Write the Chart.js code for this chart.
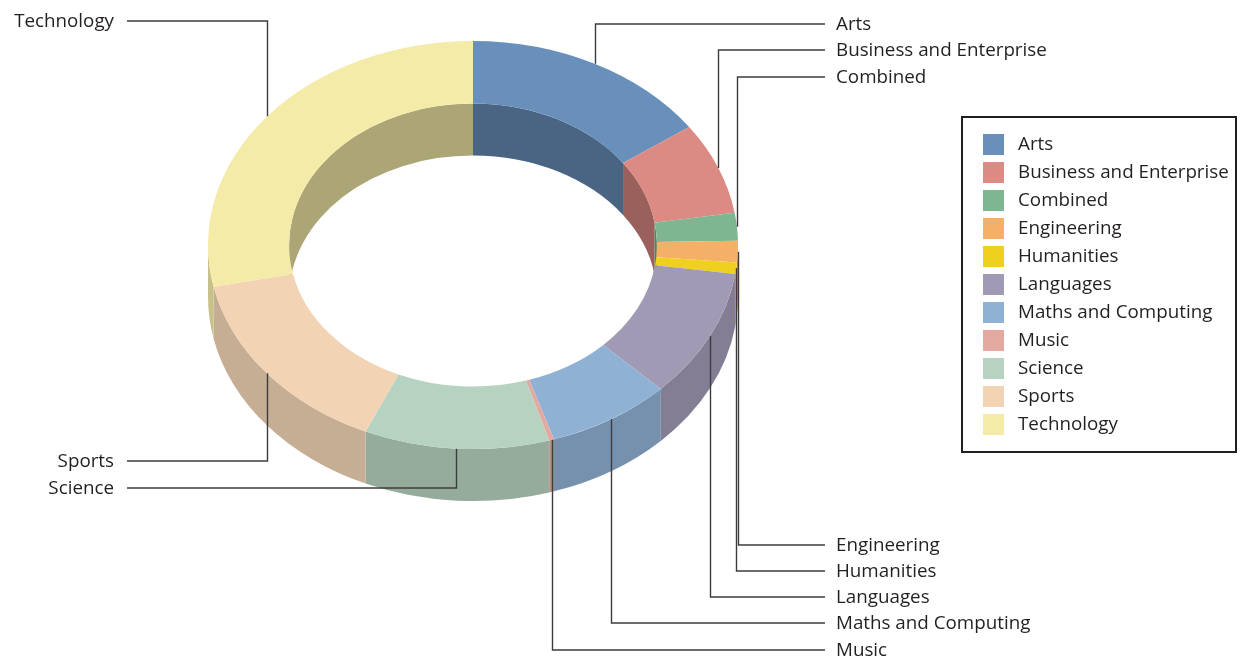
<!DOCTYPE html>
<html>
<head>
<meta charset="utf-8">
<title>Subject areas</title>
<script src="https://cdn.jsdelivr.net/npm/chart.js@4/dist/chart.umd.min.js"></script>
<style>
  html, body { margin: 0; padding: 0; background: #ffffff; }
  #wrap { position: relative; width: 1241px; height: 660px; }
</style>
</head>
<body>
<div id="wrap"><canvas id="chart"></canvas></div>
<script>
// Subject areas and their share of the total (%)
const categories = [
  'Arts', 'Business and Enterprise', 'Combined', 'Engineering', 'Humanities',
  'Languages', 'Maths and Computing', 'Music', 'Science', 'Sports', 'Technology'
];
const shares = [15.2, 7.3, 2.2, 1.7, 0.9, 10.2, 7.6, 0.3, 11.3, 15.1, 28.3];

// Slice colours (top face); walls are darker shades of these
const sliceColors = [
  '#6890bb', '#dc8a84', '#7db690', '#f5b068', '#f0d01e',
  '#a09ab4', '#8fb1d4', '#e3a8a0', '#b6d2c0', '#f2d4b5', '#f5eba8'
];

// Callout placement: which side the label sits on and its row height
const calloutSide = ['right', 'right', 'right', 'right', 'right', 'right', 'right', 'right', 'left', 'left', 'left'];
const calloutRowY = [24, 50, 77, 545, 571, 597, 623, 650, 488, 461, 21];

// Tilted ring: centre, horizontal radius, vertical squash and wall height
const RING = { cx: 473, cy: 245, rx: 265, tilt: 0.77, depth: 52 };
const TEXT_FONT = '18.8px "Open Sans", "Noto Sans", sans-serif';
const TEXT_COLOR = '#231f20';
const LEGEND_BOX = { x: 962, y: 117, w: 274, h: 335 };

function shade(hex, f) {
  const n = parseInt(hex.slice(1), 16);
  const r = Math.round(((n >> 16) & 255) * f);
  const g = Math.round(((n >> 8) & 255) * f);
  const b = Math.round((n & 255) * f);
  return `rgb(${r},${g},${b})`;
}

function ringGeometry(chart) {
  const arcs = chart.getDatasetMeta(0).data;
  const first = arcs[0];
  return { arcs, s: RING.rx / first.outerRadius, k: RING.tilt, ox: first.x, oy: first.y };
}

function project(g, angle, radius) {
  return [
    RING.cx + g.s * radius * Math.cos(angle),
    RING.cy + g.s * g.k * radius * Math.sin(angle)
  ];
}

// One extruded wall band along an ellipse between parametric angles u..v
function wall(ctx, g, radius, u, v, color) {
  const rx = g.s * radius;
  const ry = rx * g.k;
  ctx.beginPath();
  ctx.ellipse(RING.cx, RING.cy, rx, ry, 0, u, v, false);
  ctx.ellipse(RING.cx, RING.cy + RING.depth, rx, ry, 0, v, u, true);
  ctx.closePath();
  ctx.fillStyle = color;
  ctx.fill();
}

const ring3d = {
  id: 'ring3d',
  beforeDatasetsDraw(chart) {
    const ctx = chart.ctx;
    const g = ringGeometry(chart);
    const pieces = [];
    g.arcs.forEach((arc, i) => {
      const u0 = arc.startAngle, v0 = arc.endAngle;
      const cuts = [u0];
      for (let m = Math.ceil(u0 / Math.PI) * Math.PI; m < v0; m += Math.PI) {
        if (m > u0) cuts.push(m);
      }
      cuts.push(v0);
      for (let j = 0; j < cuts.length - 1; j++) {
        const u = cuts[j], v = cuts[j + 1];
        pieces.push({ i, u, v, front: Math.sin((u + v) / 2) > 0,
                      inner: arc.innerRadius, outer: arc.outerRadius });
      }
    });
    ctx.save();
    // far side of the hole: inner walls
    pieces.filter(p => !p.front).forEach(p =>
      wall(ctx, g, p.inner, p.u, p.v, shade(sliceColors[p.i], 0.70)));
    // near side: outer walls
    pieces.filter(p => p.front).forEach(p =>
      wall(ctx, g, p.outer, p.u, p.v, shade(sliceColors[p.i], 0.82)));
    ctx.restore();
    // tilt the top face of the doughnut
    ctx.save();
    ctx.translate(RING.cx, RING.cy);
    ctx.scale(g.s, g.s * g.k);
    ctx.translate(-g.ox, -g.oy);
  },
  afterDatasetsDraw(chart) {
    chart.ctx.restore();
  },
  afterDraw(chart) {
    const ctx = chart.ctx;
    const g = ringGeometry(chart);
    ctx.save();
    // callouts
    ctx.strokeStyle = '#3c3c3c';
    ctx.lineWidth = 1.4;
    ctx.font = TEXT_FONT;
    ctx.fillStyle = TEXT_COLOR;
    ctx.textBaseline = 'middle';
    g.arcs.forEach((arc, i) => {
      const mid = (arc.startAngle + arc.endAngle) / 2;
      const [px, py] = project(g, mid, arc.outerRadius);
      const y = calloutRowY[i];
      const right = calloutSide[i] === 'right';
      const x0 = Math.round(px) + 0.5;
      ctx.beginPath();
      ctx.moveTo(x0, py);
      ctx.lineTo(x0, y);
      ctx.lineTo(right ? 825 : 127, y);
      ctx.stroke();
      ctx.textAlign = right ? 'left' : 'right';
      ctx.fillText(categories[i], right ? 836 : 114, y + 0.5);
    });
    // legend
    ctx.lineWidth = 2;
    ctx.strokeStyle = TEXT_COLOR;
    ctx.strokeRect(LEGEND_BOX.x, LEGEND_BOX.y, LEGEND_BOX.w, LEGEND_BOX.h);
    ctx.textAlign = 'left';
    categories.forEach((name, i) => {
      const top = LEGEND_BOX.y + 17 + i * 28;
      ctx.fillStyle = sliceColors[i];
      ctx.fillRect(LEGEND_BOX.x + 21, top, 21, 21);
      ctx.fillStyle = TEXT_COLOR;
      ctx.fillText(name, LEGEND_BOX.x + 56, top + 11);
    });
    ctx.restore();
  }
};

new Chart(document.getElementById('chart'), {
  type: 'doughnut',
  data: {
    labels: categories,
    datasets: [{
      data: shares,
      backgroundColor: sliceColors,
      borderWidth: 0,
      clip: false
    }]
  },
  options: {
    responsive: true,
    maintainAspectRatio: false,
    animation: false,
    events: [],
    cutout: '69.4%',
    layout: { padding: 0 },
    plugins: {
      legend: { display: false },
      tooltip: { enabled: false }
    }
  },
  plugins: [ring3d]
});
</script>
</body>
</html>
